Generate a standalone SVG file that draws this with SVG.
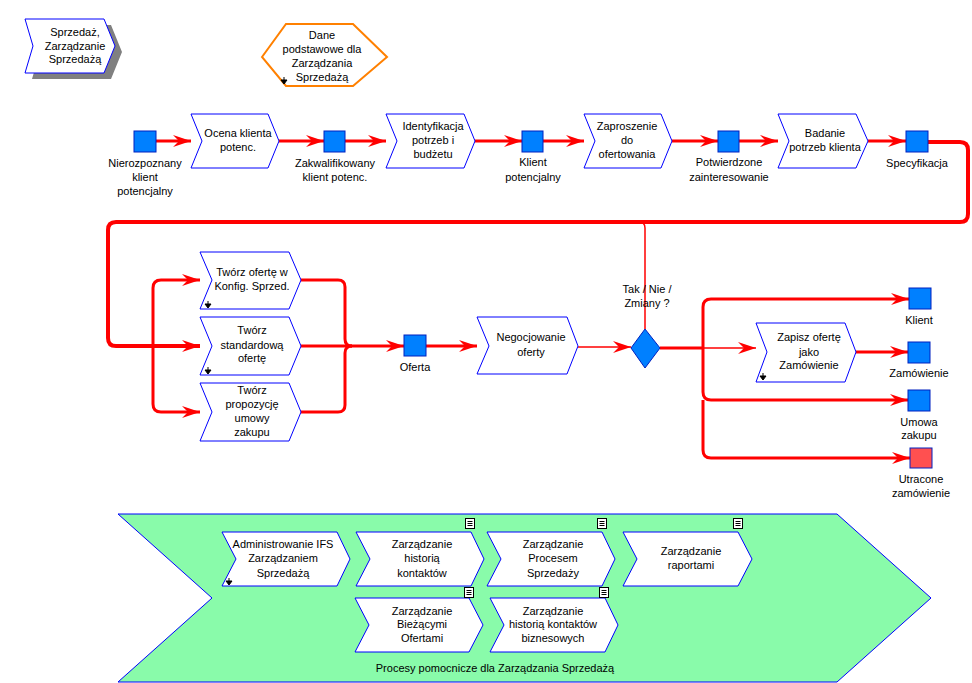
<svg xmlns="http://www.w3.org/2000/svg" width="972" height="683" viewBox="0 0 972 683">
<style>
text{font-family:"Liberation Sans",Arial,sans-serif;font-size:11px;fill:#000;text-anchor:middle}
.fn{fill:#fff;stroke:#0000ff;stroke-width:1}
.ev{fill:#0080ff;stroke:#0020c0;stroke-width:1}
.evr{fill:#ff5050;stroke:#0020c0;stroke-width:1}
.c{fill:none;stroke:#ff0000;stroke-width:3}
.thin{stroke-width:1.5}
.loop{stroke-width:4}
.sym{fill:#000;stroke:#000;stroke-width:1}
.doc{fill:#fff;stroke:#000;stroke-width:1}
</style>
<defs>
<marker id="ah" markerUnits="userSpaceOnUse" markerWidth="18" markerHeight="12" viewBox="0 0 18 12" refX="18" refY="6" orient="auto">
<path d="M0,0 L18,6 L0,12 L6,6 Z" fill="#ff0000"/>
</marker>
</defs>
<rect width="972" height="683" fill="#fff"/>

<g id="green-support">
<polygon points="118,514 837,514 931,598 837,682 118,682 212,598" fill="#89fbaa" stroke="#0000ff" stroke-width="1"/>
<text x="495" y="672">Procesy pomocnicze dla Zarządzania Sprzedażą</text>
</g>

<g id="n-sprzedaz">
<polygon points="32,25 111,25 122,52 111,79 32,79 40,52" fill="#808080"/>
<polygon class="fn" points="25,19 104,19 115,46 104,73 25,73 33,46"/>
<text x="75" y="36">Sprzedaż,</text>
<text x="75" y="50">Zarządzanie</text>
<text x="75" y="63">Sprzedażą</text>
</g>

<g id="n-dane">
<polygon points="262,57 286,24 353,24 387,57 353,86 286,86" fill="#fff" stroke="#ff8000" stroke-width="2"/>
<text x="322" y="39">Dane</text>
<text x="322" y="53">podstawowe dla</text>
<text x="322" y="67">Zarządzania</text>
<text x="322" y="81">Sprzedażą</text>
<path class="sym" d="M284,77 V80 M281,80 H287 L284,84 Z"/>
</g>

<g id="connectors">
<path class="c" d="M156,141 H191" marker-end="url(#ah)"/>
<path class="c" d="M279,141 H324" marker-end="url(#ah)"/>
<path class="c" d="M345,141 H386" marker-end="url(#ah)"/>
<path class="c" d="M475,141 H522" marker-end="url(#ah)"/>
<path class="c" d="M543,141 H584" marker-end="url(#ah)"/>
<path class="c" d="M672,141 H718" marker-end="url(#ah)"/>
<path class="c" d="M739,141 H778" marker-end="url(#ah)"/>
<path class="c" d="M868,141 H906" marker-end="url(#ah)"/>
<path class="c loop" d="M928,142 H960 Q968,142 968,150 V214 Q968,222 960,222 H116 Q108,222 108,230 V338 Q108,346 116,346 H200" marker-end="url(#ah)"/>
<path class="c" d="M153,346 V288 Q153,280 161,280 H200" marker-end="url(#ah)"/>
<path class="c" d="M153,346 V404 Q153,412 161,412 H200" marker-end="url(#ah)"/>
<path class="c" d="M301,280 H338 Q345,280 345,287 V339 Q345,346 352,346"/>
<path class="c" d="M301,412 H338 Q345,412 345,405 V353 Q345,346 352,346"/>
<path class="c" d="M301,346 H404" marker-end="url(#ah)"/>
<path class="c" d="M426,346 H477" marker-end="url(#ah)"/>
<path class="c thin" d="M578,347 H631" marker-end="url(#ah)"/>
<path class="c thin" d="M645,329 V228 Q645,222 639,222"/>
<path class="c" d="M660,348 H703"/>
<path class="c" d="M703,348 V307 Q703,299 711,299 H909" marker-end="url(#ah)"/>
<path class="c thin" d="M703,348 H756" marker-end="url(#ah)"/>
<path class="c" d="M703,348 V392 Q703,400 711,400 H908" marker-end="url(#ah)"/>
<path class="c" d="M703,400 V450 Q703,458 711,458 H910" marker-end="url(#ah)"/>
<path class="c" d="M856,352 H908" marker-end="url(#ah)"/>
</g>

<g id="e-nierozpoznany">
<rect class="ev" x="134" y="131" width="22" height="21"/>
<text x="145" y="167">Nierozpoznany</text>
<text x="145" y="181">klient</text>
<text x="145" y="195">potencjalny</text>
</g>
<g id="f-ocena">
<polygon class="fn" points="191,114 268,114 279,141 268,168 191,168 202,141"/>
<text x="238" y="137">Ocena klienta</text>
<text x="238" y="151">potenc.</text>
</g>
<g id="e-zakwalifikowany">
<rect class="ev" x="324" y="131" width="21" height="21"/>
<text x="335" y="167">Zakwalifikowany</text>
<text x="335" y="181">klient potenc.</text>
</g>
<g id="f-identyfikacja">
<polygon class="fn" points="386,114 464,114 475,141 464,168 386,168 397,141"/>
<text x="433" y="130">Identyfikacja</text>
<text x="433" y="144">potrzeb i</text>
<text x="433" y="158">budżetu</text>
</g>
<g id="e-klient-pot">
<rect class="ev" x="522" y="131" width="21" height="21"/>
<text x="533" y="166">Klient</text>
<text x="533" y="181">potencjalny</text>
</g>
<g id="f-zaproszenie">
<polygon class="fn" points="584,114 661,114 672,141 661,168 584,168 595,141"/>
<text x="627" y="130">Zaproszenie</text>
<text x="627" y="144">do</text>
<text x="627" y="158">ofertowania</text>
</g>
<g id="e-potwierdzone">
<rect class="ev" x="718" y="131" width="21" height="21"/>
<text x="729" y="166">Potwierdzone</text>
<text x="729" y="181">zainteresowanie</text>
</g>
<g id="f-badanie">
<polygon class="fn" points="778,114 856,114 868,141 856,168 778,168 789,141"/>
<text x="825" y="137">Badanie</text>
<text x="825" y="151">potrzeb klienta</text>
</g>
<g id="e-specyfikacja">
<rect class="ev" x="906" y="131" width="22" height="21"/>
<text x="917" y="167">Specyfikacja</text>
</g>

<g id="f-tworz-konfig">
<polygon class="fn" points="200,252 289,252 301,280 289,309 200,309 212,280"/>
<text x="252" y="276">Twórz ofertę w</text>
<text x="252" y="290">Konfig. Sprzed.</text>
<path class="sym" d="M208,301 V304 M205,304 H211 L208,308 Z"/>
</g>
<g id="f-tworz-standard">
<polygon class="fn" points="200,317 289,317 301,346 289,375 200,375 212,346"/>
<text x="252" y="334">Twórz</text>
<text x="252" y="349">standardową</text>
<text x="252" y="362">ofertę</text>
<path class="sym" d="M208,367 V370 M205,370 H211 L208,374 Z"/>
</g>
<g id="f-tworz-propozycje">
<polygon class="fn" points="200,383 289,383 301,412 289,441 200,441 212,412"/>
<text x="252" y="394">Twórz</text>
<text x="252" y="408">propozycję</text>
<text x="252" y="422">umowy</text>
<text x="252" y="436">zakupu</text>
</g>
<g id="e-oferta">
<rect class="ev" x="404" y="335" width="22" height="21"/>
<text x="415" y="371">Oferta</text>
</g>
<g id="f-negocjowanie">
<polygon class="fn" points="477,317 567,317 578,346 567,374 477,374 489,346"/>
<text x="531" y="341">Negocjowanie</text>
<text x="531" y="356">oferty</text>
</g>
<g id="x-decyzja">
<polygon class="ev" points="645,329 660,348 645,368 631,348" stroke="#000040"/>
<text x="647" y="293">Tak / Nie /</text>
<text x="647" y="307">Zmiany ?</text>
</g>
<g id="f-zapisz">
<polygon class="fn" points="756,323 845,323 856,352 845,382 756,382 767,352"/>
<text x="809" y="341">Zapisz ofertę</text>
<text x="809" y="356">jako</text>
<text x="809" y="369">Zamówienie</text>
<path class="sym" d="M763,373 V376 M760,376 H766 L763,380 Z"/>
</g>
<g id="e-klient">
<rect class="ev" x="909" y="288" width="22" height="21"/>
<text x="919" y="324">Klient</text>
</g>
<g id="e-zamowienie">
<rect class="ev" x="908" y="342" width="22" height="21"/>
<text x="919" y="377">Zamówienie</text>
</g>
<g id="e-umowa">
<rect class="ev" x="908" y="390" width="22" height="21"/>
<text x="919" y="426">Umowa</text>
<text x="919" y="439">zakupu</text>
</g>
<g id="e-utracone">
<rect class="evr" x="910" y="448" width="22" height="20"/>
<text x="921" y="483">Utracone</text>
<text x="921" y="497">zamówienie</text>
</g>

<g id="f-administrowanie">
<polygon class="fn" points="222,532 337,532 350,559 337,586 222,586 236,559"/>
<text x="283" y="548">Administrowanie IFS</text>
<text x="283" y="562">Zarządzaniem</text>
<text x="283" y="577">Sprzedażą</text>
<path class="sym" d="M229,578 V581 M226,581 H232 L229,585 Z"/>
</g>
<g id="f-historia">
<polygon class="fn" points="356,532 471,532 484,559 471,586 356,586 370,559"/>
<text x="422" y="548">Zarządzanie</text>
<text x="422" y="562">historią</text>
<text x="422" y="577">kontaktów</text>
<rect class="doc" x="465.5" y="518.5" width="9" height="10"/>
<path d="M467.5,521.5 H472.5 M467.5,523.5 H472.5 M467.5,525.5 H472.5" stroke="#000" stroke-width="1"/>
</g>
<g id="f-procesem">
<polygon class="fn" points="487,532 602,532 615,559 602,586 487,586 501,559"/>
<text x="553" y="548">Zarządzanie</text>
<text x="553" y="562">Procesem</text>
<text x="553" y="577">Sprzedaży</text>
<rect class="doc" x="597.5" y="518.5" width="9" height="10"/>
<path d="M599.5,521.5 H604.5 M599.5,523.5 H604.5 M599.5,525.5 H604.5" stroke="#000" stroke-width="1"/>
</g>
<g id="f-raportami">
<polygon class="fn" points="623,532 738,532 752,559 738,586 623,586 637,559"/>
<text x="691" y="555">Zarządzanie</text>
<text x="691" y="569">raportami</text>
<rect class="doc" x="733.5" y="518.5" width="9" height="10"/>
<path d="M735.5,521.5 H740.5 M735.5,523.5 H740.5 M735.5,525.5 H740.5" stroke="#000" stroke-width="1"/>
</g>
<g id="f-biezace">
<polygon class="fn" points="355,598 469,598 483,625 469,652 355,652 369,625"/>
<text x="422" y="615">Zarządzanie</text>
<text x="422" y="628">Bieżącymi</text>
<text x="422" y="642">Ofertami</text>
<rect class="doc" x="464.5" y="587.5" width="9" height="10"/>
<path d="M466.5,590.5 H471.5 M466.5,592.5 H471.5 M466.5,594.5 H471.5" stroke="#000" stroke-width="1"/>
</g>
<g id="f-biznesowe">
<polygon class="fn" points="490,598 605,598 618,625 605,652 490,652 504,625"/>
<text x="553" y="615">Zarządzanie</text>
<text x="553" y="628">historią kontaktów</text>
<text x="553" y="642">biznesowych</text>
<rect class="doc" x="599.5" y="587.5" width="9" height="10"/>
<path d="M601.5,590.5 H606.5 M601.5,592.5 H606.5 M601.5,594.5 H606.5" stroke="#000" stroke-width="1"/>
</g>
</svg>
